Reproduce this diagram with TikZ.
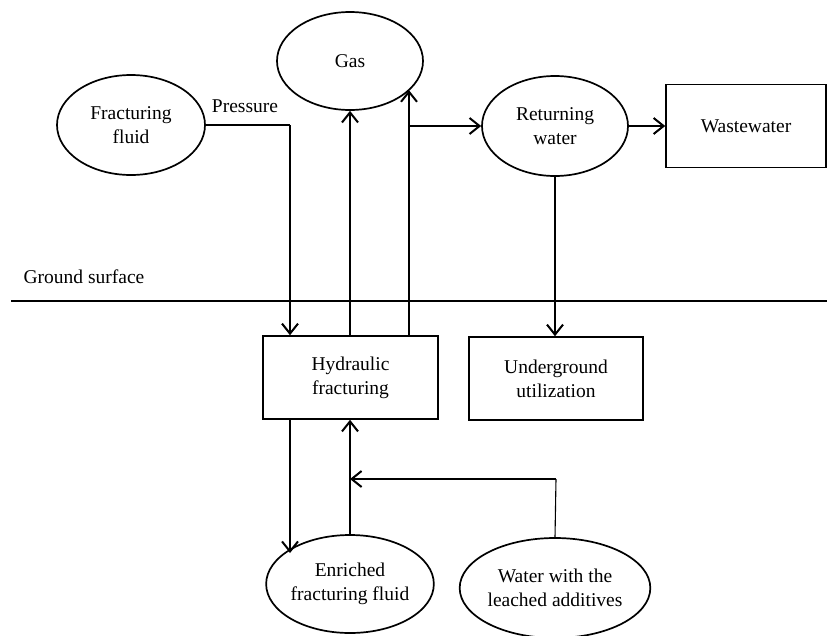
\documentclass[tikz,border=0pt]{standalone}
\usepackage{fontspec}
\setmainfont{Liberation Serif}
\usetikzlibrary{shapes.geometric,arrows.meta,calc}
\begin{document}
\begin{tikzpicture}[x=1pt,y=-1pt,
  txt/.style={font=\fontsize{19.5}{24}\selectfont, align=center},
  oval/.style={ellipse, draw, line width=1.7pt, txt, inner sep=0pt},
  boxnode/.style={rectangle, draw, line width=1.6pt, txt, inner sep=0pt},
  arr/.style={line width=2.1pt, -{Straight Barb[length=10pt,width=16pt,line width=2pt]}},
  thn/.style={line width=1.1pt}
]
\useasboundingbox (0,0) rectangle (829,635);

% nodes
\node[oval, minimum width=148pt, minimum height=100pt] (ff) at (131,125) {Fracturing\\fluid};
\node[oval, minimum width=146pt, minimum height=98pt] (gas) at (350,61) {Gas};
\node[oval, minimum width=146pt, minimum height=100pt] (rw) at (555,126) {Returning\\water};
\node[boxnode, minimum width=160pt, minimum height=83pt] (ww) at (746,126) {Wastewater};
\node[boxnode, minimum width=175pt, minimum height=83pt] (hf) at (350.5,377.5) {Hydraulic\\fracturing};
\node[boxnode, minimum width=174pt, minimum height=83pt] (ug) at (556,378.5) {Underground\\utilization};
\node[oval, minimum width=146pt, minimum height=98pt] (ef) at (350,584) {Enriched\\fracturing fluid};
\node[oval, minimum width=146pt, minimum height=100pt] (wl) at (555,588) {Water with the\\leached additives};

% ground surface
\coordinate (gl) at (11,301);
\coordinate (gr) at (827,301);
\draw[line width=1.4pt] (gl) -- (gr);
\node[txt, anchor=center] (gs) at (84,277) {Ground surface};

% pressure connector
\coordinate (pc) at (290,125);
\draw[line width=1.6pt] (ff.east) -- (pc);
\draw[arr] (pc) -- (pc |- hf.north);
\node[txt] (pl) at (245,106) {Pressure};

% gas up
\draw[arr] (gas.south |- hf.north) -- (gas.south);

% thin line to junction
\coordinate (jc) at (409,126);
\draw[thn] (jc |- hf.north) -- (jc);
\draw[arr] (jc) -- (jc |- gas.-26);
\draw[arr] (jc) -- (rw.west);

% returning water
\draw[arr] (rw.east) -- (ww.west);
\draw[arr] (rw.south) -- (rw.south |- ug.north);

% below hydraulic fracturing
\draw[arr] (pc |- hf.south) -- (pc |- ef.155);
\draw[arr] (ef.north) -- (ef.north |- hf.south);

% water with leached additives
\coordinate (wc) at (556,479);
\draw[thn] (wl.north) -- (wc);
\draw[arr] (wc) -- (wc -| ef.north);
\end{tikzpicture}
\end{document}
